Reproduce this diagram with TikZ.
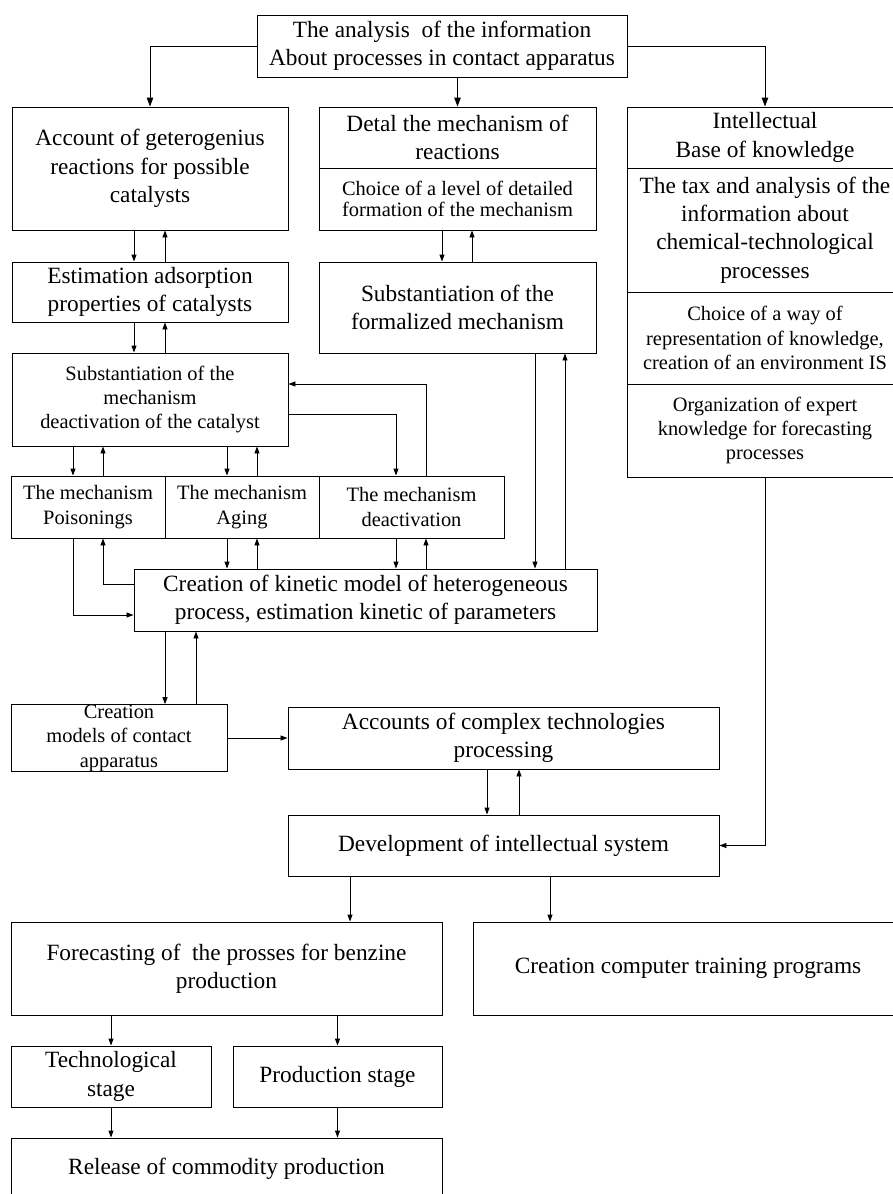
\documentclass[tikz,border=0pt]{standalone}
\usepackage{fontspec}
\setmainfont{Liberation Serif}
\usetikzlibrary{arrows.meta,calc}
\newcommand\bigtxt{\fontsize{23.4}{28.5}\selectfont}
\newcommand\smtxt{\fontsize{20.5}{24.5}\selectfont}
\newcommand\tighttxt{\fontsize{20.5}{21}\selectfont}
\newcommand\bx[7]{\node[box,#6,minimum width={(#4-#2)*1.00375},minimum height={(#5-#3)*1.00375}] (#1) at ({(#2+#4)/2},{(#3+#5)/2}) {#7};}
\newcommand\vcon[4]{\coordinate (vc) at (#2,0); \draw[arr,#1] (vc |- #3) -- (vc |- #4);}
\begin{document}
\begin{tikzpicture}[x=1bp,y=-1bp,
  box/.style={draw, line width=0.9bp, align=center, inner sep=0pt},
  big/.style={font=\bigtxt},
  small/.style={font=\smtxt},
  tight/.style={font=\tighttxt},
  arr/.style={draw, line width=0.9bp, -{Triangle[length=7bp,width=5bp]}},
  arrbig/.style={draw, line width=0.9bp, -{Triangle[length=9bp,width=6.5bp]}}]
\useasboundingbox (0,0) rectangle (893,1194);
\fill[white] (0,0) rectangle (893,1194);
\clip (0,0) rectangle (893,1194);

\bx{top}{257}{15}{627}{77}{big}{The analysis\ \ of the information\\About processes in contact apparatus}
\bx{A}{12}{107}{288}{230}{big}{Account of geterogenius\\reactions for possible\\catalysts}
\bx{D1}{319}{107}{596}{168}{big}{Detal the mechanism of\\reactions}
\bx{D2}{319}{168}{596}{230}{tight}{Choice of a level of detailed\\formation of the mechanism}
\bx{I1}{627}{107}{903}{168}{big}{Intellectual\\Base of knowledge}
\bx{I2}{627}{168}{903}{292}{big}{The tax and analysis of the\\information about\\chemical-technological\\processes}
\bx{I3}{627}{292}{903}{384}{small}{Choice of a way of\\representation of knowledge,\\creation of an environment IS}
\bx{I4}{627}{384}{903}{477}{small}{Organization of expert\\knowledge for forecasting\\processes}
\bx{E}{12}{262}{288}{322}{big}{Estimation adsorption\\properties of catalysts}
\bx{F}{319}{262}{596}{353}{big}{Substantiation of the\\formalized mechanism}
\bx{S}{12}{353}{288}{446}{small}{Substantiation of the\\mechanism\\deactivation of the catalyst}
\bx{P}{11}{476}{165}{538}{small}{The mechanism\\Poisonings}
\bx{G}{165}{476}{319}{538}{small}{The mechanism\\Aging}
\bx{Dv}{319}{476}{504}{538}{small}{The mechanism\\deactivation}
\bx{K}{134}{569}{597}{631}{big}{Creation of kinetic model of heterogeneous\\process, estimation kinetic of parameters}
\bx{CM}{11}{707}{227}{769}{small}{Creation\\models of contact\\apparatus}
\bx{AC}{288}{707}{719}{769}{big}{Accounts of complex technologies\\processing}
\bx{DEV}{288}{815}{719}{876}{big}{Development of intellectual system}
\bx{FC}{11}{922}{442}{1015}{big}{Forecasting of\ \ the prosses for benzine\\production}
\bx{CT}{473}{922}{903}{1015}{big}{Creation computer training programs}
\bx{TS}{11}{1046}{211}{1107}{big}{Technological\\stage}
\bx{PS}{233}{1046}{442}{1107}{big}{Production stage}
\bx{RL}{11}{1138}{442}{1200}{big}{Release of commodity production}

% top fan-out
\draw[arrbig] (top.west) -| (A.north);
\draw[arrbig] (top.south -| D1.north) -- (D1.north);
\draw[arrbig] (top.east) -| (I1.north);

% left column
\vcon{}{134}{A.south}{E.north}
\vcon{}{165}{E.north}{A.south}
\vcon{}{134}{E.south}{S.north}
\vcon{}{165}{S.north}{E.south}
% middle column
\vcon{}{442}{D2.south}{F.north}
\vcon{}{472}{F.north}{D2.south}
% S to mechanisms
\vcon{}{73}{S.south}{P.north}
\vcon{}{103}{P.north}{S.south}
\vcon{}{227}{S.south}{G.north}
\vcon{}{257}{G.north}{S.south}
\coordinate (c396) at (396,0);
\coordinate (c426) at (426,0);
\coordinate (c73) at (73,0);
\coordinate (c103) at (103,0);
\draw[arr] ($(S.east)+(0,14.5)$) -| (c396 |- Dv.north);
\draw[arr] (c426 |- Dv.north) |- ($(S.east)+(0,-15.5)$);
% mechanisms to kinetic
\vcon{}{227}{G.south}{K.north}
\vcon{}{257}{K.north}{G.south}
\vcon{}{396}{Dv.south}{K.north}
\vcon{}{426}{K.north}{Dv.south}
\vcon{}{535}{F.south}{K.north}
\vcon{}{565}{K.north}{F.south}
\draw[arr] (c73 |- P.south) |- ($(K.west)+(0,15)$);
\draw[arr] ($(K.west)+(0,-16)$) -| (c103 |- P.south);
% kinetic to models
\vcon{}{165}{K.south}{CM.north}
\vcon{}{196}{CM.north}{K.south}
\draw[arr] (CM.east) -- (AC.west);
\vcon{}{487}{AC.south}{DEV.north}
\vcon{}{519}{DEV.north}{AC.south}
\draw[arr] (I4.south) |- (DEV.east);
% development
\vcon{}{350}{DEV.south}{FC.north}
\vcon{}{550}{DEV.south}{CT.north}
\draw[arr] (TS.north |- FC.south) -- (TS.north);
\draw[arr] (PS.north |- FC.south) -- (PS.north);
\draw[arr] (TS.south) -- (TS.south |- RL.north);
\draw[arr] (PS.south) -- (PS.south |- RL.north);
\end{tikzpicture}
\end{document}
